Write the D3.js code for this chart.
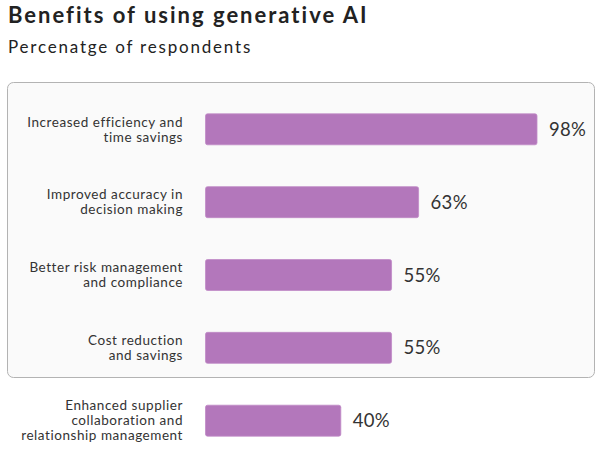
<!DOCTYPE html>
<html><head><meta charset="utf-8">
<script src="https://cdn.jsdelivr.net/npm/d3@7"></script>
<style>body{margin:0;background:#fff;} svg{display:block;}</style>
</head><body>
<svg id="chart" width="600" height="454"></svg>
<script>
const categories = [
  ["Increased efficiency and", "time savings"],
  ["Improved accuracy in", "decision making"],
  ["Better risk management", "and compliance"],
  ["Cost reduction", "and savings"],
  ["Enhanced supplier", "collaboration and", "relationship management"]
];
const values = [98, 63, 55, 55, 40];
const valueLabels = ["98%", "63%", "55%", "55%", "40%"];
const title = "Benefits of using generative AI";
const subtitle = "Percenatge of respondents";

const font = "Lato, 'Open Sans', sans-serif";
const svg = d3.select("#chart");

svg.append("text").attr("x", 8).attr("y", 23).text(title)
  .attr("font-family", font).attr("font-weight", 700).attr("font-size", 22)
  .attr("letter-spacing", 2).attr("fill", "#222");
svg.append("text").attr("x", 8).attr("y", 53).text(subtitle)
  .attr("font-family", font).attr("font-size", 17).attr("letter-spacing", 1.8).attr("fill", "#222");

// highlight box
svg.append("rect").attr("x", 7.5).attr("y", 82.5).attr("width", 587).attr("height", 295)
  .attr("rx", 6).attr("fill", "#fafafa").attr("stroke", "#b3b3b3").attr("stroke-width", 1);

const y = d3.scaleBand().domain(d3.range(values.length)).range([92, 458]).paddingInner(0.575).paddingOuter(0.3);
const x = d3.scaleLinear().domain([0, 98]).range([205.5, 537]);

const g = svg.append("g");
g.selectAll("rect.bar").data(values).join("rect").attr("class", "bar")
  .attr("x", x(0)).attr("y", (d, i) => y(i))
  .attr("width", d => x(d) - x(0)).attr("height", y.bandwidth())
  .attr("rx", 2).attr("fill", "#b377bb").attr("stroke", "#c08ac7").attr("stroke-width", 0.8);

g.selectAll("text.val").data(values).join("text").attr("class", "val")
  .attr("x", d => x(d) + 12).attr("y", (d, i) => y(i) + y.bandwidth() / 2)
  .attr("dy", "0.36em").text((d, i) => valueLabels[i])
  .attr("font-family", font).attr("font-size", 18.5).attr("letter-spacing", 0.3).attr("fill", "#333");

const lh = 15;
g.selectAll("text.cat").data(categories).join("text").attr("class", "cat")
  .attr("text-anchor", "end")
  .attr("font-family", font).attr("font-size", 13.5).attr("letter-spacing", 0.55).attr("fill", "#333")
  .each(function (lines, i) {
    const cy = y(i) + y.bandwidth() / 2;
    const start = cy - (lines.length - 1) * lh / 2;
    d3.select(this).selectAll("tspan").data(lines).join("tspan")
      .attr("x", 183).attr("y", (d, j) => start + j * lh).attr("dy", "0.35em").text(d => d);
  });
</script>
</body></html>
